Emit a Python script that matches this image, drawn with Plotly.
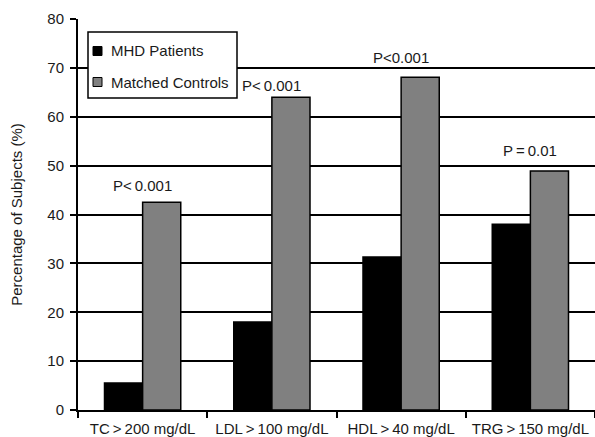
import plotly.graph_objects as go

categories = ["TC\u2009>\u2009200 mg/dL", "LDL\u2009>\u2009100 mg/dL", "HDL\u2009>\u200940 mg/dL", "TRG\u2009>\u2009150 mg/dL"]
mhd_patients = [5.5, 18.0, 31.3, 38.0]
matched_controls = [42.5, 64.0, 68.1, 48.9]
p_labels = ["P<\u20090.001", "P<\u20090.001", "P<0.001", "P\u2009=\u20090.01"]
p_label_y = [46.0, 66.3, 72.2, 53.0]
series_names = ["MHD Patients", "Matched Controls"]
series_colors = ["#000000", "#808080"]

font_family = "Liberation Sans, Arial, sans-serif"
FS = 15

fig = go.Figure()
for name, vals, col in zip(series_names, [mhd_patients, matched_controls], series_colors):
    fig.add_trace(go.Bar(
        x=categories, y=vals, name=name,
        marker=dict(color=col, line=dict(color="#000000", width=1.5)),
    ))

for c, t, yv in zip(categories, p_labels, p_label_y):
    fig.add_annotation(x=c, y=yv, text=t, showarrow=False, xanchor="center", yanchor="middle",
                       font=dict(size=FS, color="#1a1a1a", family=font_family))

# Legend box (drawn manually to match the compact original legend)
PLOT_L, PLOT_R, PLOT_T, PLOT_B = 78, 595, 19, 410
def px_x(p):
    return (p - PLOT_L) / (PLOT_R - PLOT_L)
def px_y(p):
    return (PLOT_B - p) / (PLOT_B - PLOT_T)

fig.add_shape(type="rect", xref="paper", yref="paper",
              x0=px_x(88), x1=px_x(237), y0=px_y(98), y1=px_y(32),
              line=dict(color="#000000", width=1.5), fillcolor="white", layer="above")
for i, (name, col) in enumerate(zip(series_names, series_colors)):
    yc = 51 + 31 * i
    fig.add_shape(type="rect", xref="paper", yref="paper",
                  x0=px_x(93), x1=px_x(102), y0=px_y(yc + 4.5), y1=px_y(yc - 4.5),
                  line=dict(color="#000000", width=1), fillcolor=col, layer="above")
    fig.add_annotation(xref="paper", yref="paper", x=px_x(109), y=px_y(yc), text=name,
                       showarrow=False, xanchor="left", yanchor="middle",
                       font=dict(size=FS, color="#1a1a1a", family=font_family))

fig.update_layout(
    width=595, height=437,
    margin=dict(l=PLOT_L, r=595 - PLOT_R, t=PLOT_T, b=437 - PLOT_B),
    paper_bgcolor="white", plot_bgcolor="white",
    barmode="group", bargap=0.41, bargroupgap=0,
    font=dict(family=font_family, size=FS, color="#1a1a1a"),
    showlegend=False,
)
fig.update_xaxes(
    type="category", range=[-0.5, 3.5],
    showline=True, linecolor="#000000", linewidth=2,
    ticks="outside", tickson="boundaries", ticklen=6, tickwidth=2, tickcolor="#000000",
    showgrid=False, ticklabelstandoff=4,
    tickfont=dict(size=FS, color="#1a1a1a"),
)
fig.update_yaxes(
    range=[0, 80], dtick=10, tick0=0,
    showline=True, linecolor="#000000", linewidth=2,
    ticks="outside", ticklen=6, tickwidth=2, tickcolor="#000000",
    showgrid=True, gridcolor="#000000", gridwidth=1.5,
    zeroline=False, ticklabelstandoff=3,
    tickfont=dict(size=FS, color="#1a1a1a"),
    title=dict(text="Percentage of Subjects (%)", font=dict(size=FS, color="#1a1a1a"), standoff=21),
)

fig.write_html("out.html")
